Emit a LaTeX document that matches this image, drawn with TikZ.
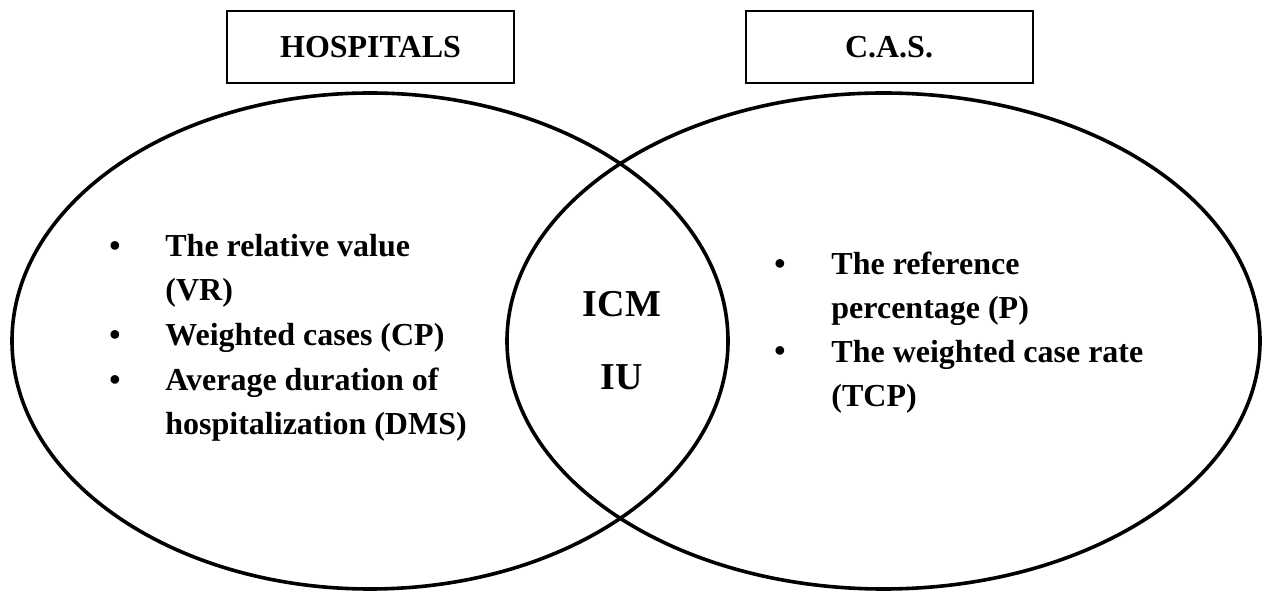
\documentclass[tikz,border=0pt]{standalone}
\usepackage{fontspec}
\setmainfont{Liberation Serif}
\usetikzlibrary{positioning}

\begin{document}
\begin{tikzpicture}	[
		x=0.5pt, y=-0.5pt,
		venn/.style={draw, line width=1.8pt},
		titlebox/.style={draw, line width=1pt, minimum width=143.5pt, minimum height=36pt, inner sep=0pt, font=\fontsize{16}{19}\selectfont\bfseries},
		itemtext/.style={anchor=base west, align=left, inner sep=0pt, font=\fontsize{16}{22.25}\selectfont\bfseries},
		bulletmark/.style={anchor=base, inner sep=0pt, font=\fontsize{16}{22.25}\selectfont\bfseries},
		lenstext/.style={anchor=base, inner sep=0pt, font=\fontsize{19}{23}\selectfont\bfseries}
	]
		\useasboundingbox (0,0) rectangle (1263,592);
		\node[titlebox] (hosp) at (370.5,47) {HOSPITALS};
		\node[titlebox] (cas) at (889,47) {C.A.S.};
		\draw[venn] (370,341) ellipse [x radius=179pt, y radius=124pt];
		\draw[venn] (883.5,341) ellipse [x radius=188.25pt, y radius=124pt];
		\node[bulletmark] (b1) at (115,257) {\textbullet};
		\node[itemtext] (vr) at (165,301) {The relative value\\(VR)};
		\node[bulletmark] (b2) at (115,346) {\textbullet};
		\node[itemtext] (cp) at (165,346) {Weighted cases (CP)};
		\node[bulletmark] (b3) at (115,391) {\textbullet};
		\node[itemtext] (dms) at (165,435) {Average duration of\\hospitalization (DMS)};
		\node[bulletmark] (b4) at (780,275) {\textbullet};
		\node[itemtext] (p) at (831,319) {The reference\\percentage (P)};
		\node[bulletmark] (b5) at (780,362) {\textbullet};
		\node[itemtext] (tcp) at (831,407) {The weighted case rate\\(TCP)};
		\node[lenstext] (icm) at (622,317) {ICM};
		\node[lenstext] (iu) at (622,390) {IU};
	\end{tikzpicture}
\end{document}
